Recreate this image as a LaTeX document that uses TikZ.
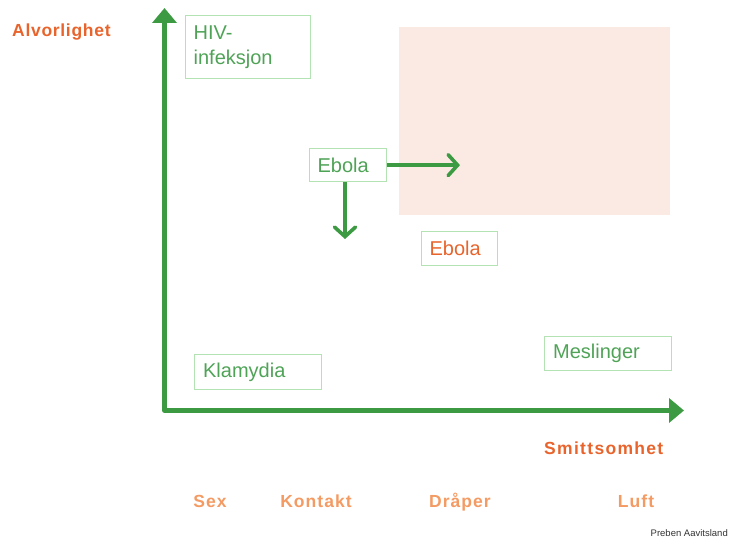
\documentclass[tikz,border=0pt]{standalone}
\usepackage{fontspec}
\setmainfont{Liberation Sans}
\usetikzlibrary{arrows.meta}
\definecolor{axisgreen}{HTML}{3C9A43}
\definecolor{boxline}{HTML}{B3E2B3}
\definecolor{boxtext}{HTML}{4FA357}
\definecolor{titleorange}{HTML}{E8642C}
\definecolor{routeorange}{HTML}{F49A63}
\definecolor{zonepink}{HTML}{FBEAE3}
\tikzset{
  disease/.style={draw=boxline, line width=1.3pt, text=boxtext, anchor=north west,
    font=\fontsize{20}{25}\selectfont, align=left, inner xsep=8pt, inner ysep=0pt},
  axistitle/.style={text=titleorange, inner sep=0pt,
    font=\fontsize{17.5}{19}\selectfont\bfseries\addfontfeatures{LetterSpace=4}},
  route/.style={text=routeorange, inner sep=0pt, anchor=base,
    font=\fontsize{17.5}{19}\selectfont\bfseries\addfontfeatures{LetterSpace=6}},
  axisline/.style={axisgreen, line width=4.2pt, line join=round,
    {Triangle[length=15pt,width=24pt]}-{Triangle[length=15pt,width=24pt]}},
  shiftarrow/.style={axisgreen, line width=3.6pt,
    -{Straight Barb[length=9.5pt,width=21pt,line cap=round]}},
}
\begin{document}
\begin{tikzpicture}[x=1pt, y=-1pt]
  \useasboundingbox (0,0) rectangle (729,540);
  % high severity / high transmissibility zone
  \fill[zonepink] (399,27) rectangle (670,215);

  % axes
  \coordinate (ytop) at (164.5,8);
  \coordinate (origin) at (164.5,410.5);
  \coordinate (xend) at (684,410.5);
  \draw[axisline] (ytop) -- (origin) -- (xend);

  \node[axistitle, anchor=base west] (severity) at (12,37) {Alvorlighet};
  \node[axistitle, anchor=base west, font=\fontsize{17.5}{19}\selectfont\bfseries\addfontfeatures{LetterSpace=7.5}] (spread) at (544,454) {Smittsomhet};

  % diseases
  \node[disease, text width=109pt, minimum height=63pt] (hiv) at (185,15) {HIV-\\infeksjon};
  \node[disease, text width=61pt, minimum height=33pt] (ebola) at (309,148) {Ebola};
  \node[disease, text width=60pt, minimum height=34pt, text=titleorange] (ebola2) at (421,231) {Ebola};
  \node[disease, text width=110pt, minimum height=34pt, inner xsep=8.5pt] (measles) at (544,336) {Meslinger};
  \node[disease, text width=110pt, minimum height=35pt, inner xsep=8.5pt] (chlamydia) at (194,354) {Klamydia};

  % possible shifts for Ebola
  \coordinate (ebolaright) at (460,164);
  \coordinate (eboladown) at (345,239);
  \draw[shiftarrow] (ebola.east) -- (ebola.east -| ebolaright);
  \draw[shiftarrow] (ebola.south -| eboladown) -- (eboladown);

  % transmission routes
  \node[route] (sex) at (210,507) {Sex};
  \node[route] (contact) at (316,507) {Kontakt};
  \node[route] (droplet) at (460,507) {Dråper};
  \node[route] (air) at (636,507) {Luft};

  \node[anchor=base east, inner sep=0pt, text=black!80, font=\fontsize{9.5}{10}\selectfont] (credit) at (728,536) {Preben Aavitsland};
\end{tikzpicture}
\end{document}
